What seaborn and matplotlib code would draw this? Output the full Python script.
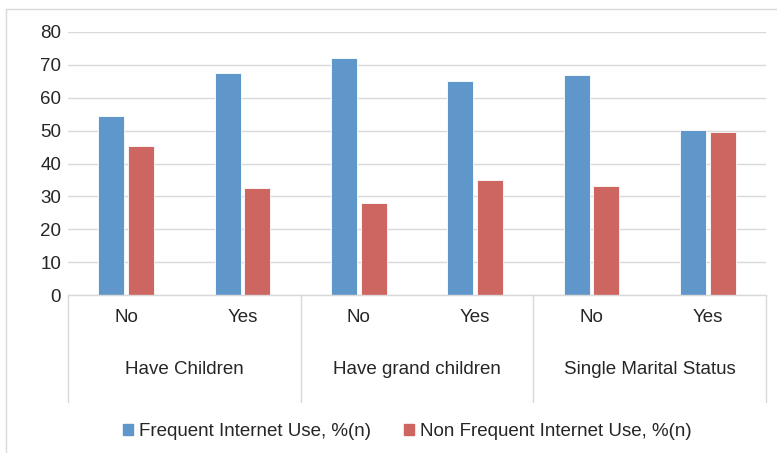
import matplotlib
matplotlib.use("Agg")
import matplotlib.pyplot as plt
import matplotlib.transforms as mtransforms
from matplotlib.lines import Line2D
import seaborn as sns
import pandas as pd

groups = ["Have Children", "Have grand children", "Single Marital Status"]
answers = ["No", "Yes"]
series_names = ["Frequent Internet Use, %(n)", "Non Frequent Internet Use, %(n)"]
frequent = [54.6, 67.6, 72.0, 65.0, 66.9, 50.3]
non_frequent = [45.4, 32.4, 28.0, 35.0, 33.1, 49.7]
colors = ["#6097CB", "#CD6561"]

sns.set_theme(style="white")
plt.rcParams["font.family"] = ["Liberation Sans", "DejaVu Sans"]

cats = [f"{g}|{a}" for g in groups for a in answers]
df = pd.DataFrame({
    "cat": cats * 2,
    "value": frequent + non_frequent,
    "series": [series_names[0]] * 6 + [series_names[1]] * 6,
})

FS = 13.5
W, H = 777, 453
fig = plt.figure(figsize=(W / 100, H / 100), dpi=100)
ax = fig.add_axes([68 / W, (H - 295) / H, (766 - 68) / W, (295 - 32) / H])

sns.barplot(data=df, x="cat", y="value", hue="series", order=cats,
            hue_order=series_names, palette=colors, width=0.51, gap=0.12,
            saturation=1, ax=ax, edgecolor="#FFFFFF", linewidth=0.6, legend=True)

ax.set_ylim(0, 80)
ax.set_xlim(-0.5, 5.5)
ax.set_yticks(range(0, 81, 10))
ax.tick_params(axis="y", labelsize=FS, colors="#262626", length=0, pad=5)
ax.set_xticks([])
ax.set_xlabel("")
ax.set_ylabel("")
ax.yaxis.grid(True, color="#D9D9D9", linewidth=1)
ax.set_axisbelow(True)
for s in ["top", "right", "left"]:
    ax.spines[s].set_visible(False)
ax.spines["bottom"].set_color("#D9D9D9")
ax.spines["bottom"].set_linewidth(1)

trans = mtransforms.blended_transform_factory(ax.transData, fig.transFigure)
def fy(py):
    return (H - py) / H

for i, c in enumerate(cats):
    ax.text(i, fy(317), c.split("|")[1], transform=trans, ha="center", va="center",
            fontsize=FS, color="#262626")
for gi, g in enumerate(groups):
    ax.text(gi * 2 + 0.5, fy(369), g, transform=trans, ha="center", va="center",
            fontsize=FS, color="#262626")
for xb in [-0.5, 1.5, 3.5, 5.5]:
    ax.add_line(Line2D([xb, xb], [fy(295), fy(402)], transform=trans,
                       color="#D9D9D9", linewidth=1, clip_on=False))

ax.legend_.remove()
handles = [plt.Rectangle((0, 0), 1, 1, color=c) for c in colors]
fig.legend(handles, series_names, loc="center", bbox_to_anchor=(407 / W, fy(432)),
           ncol=2, frameon=False, fontsize=FS, handlelength=0.53, handleheight=0.53,
           columnspacing=1.75, handletextpad=0.33, labelcolor="#262626")

fig.add_artist(Line2D([6 / W, 6 / W], [fy(9), 0], transform=fig.transFigure,
                      color="#D9D9D9", linewidth=1))
fig.add_artist(Line2D([6 / W, 1], [fy(9), fy(9)], transform=fig.transFigure,
                      color="#D9D9D9", linewidth=1))

fig.savefig("out.png", dpi=100)
